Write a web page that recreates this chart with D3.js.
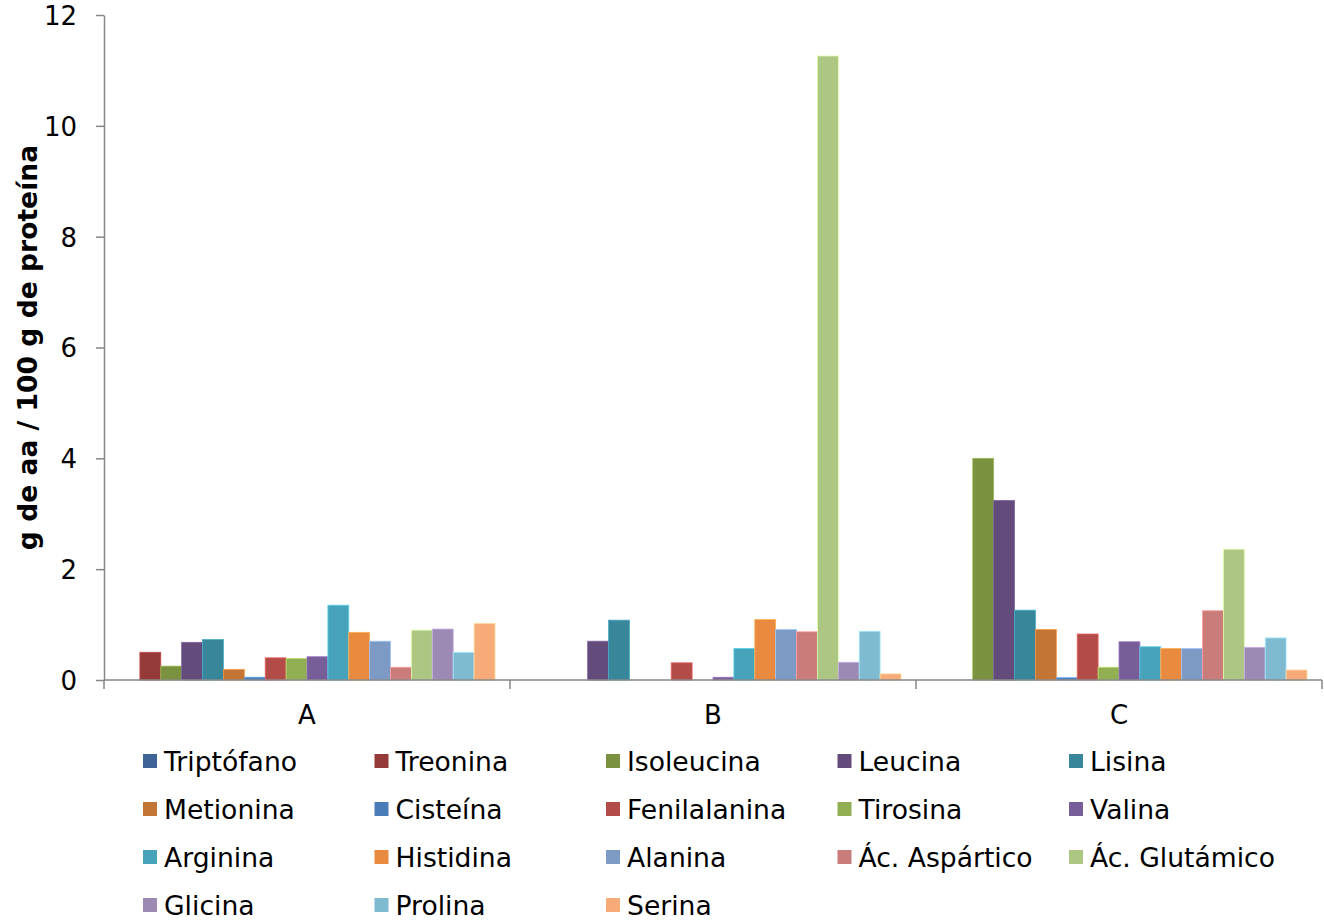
<!DOCTYPE html>
<html>
<head>
<meta charset="utf-8">
<script src="https://cdn.jsdelivr.net/npm/d3@7"></script>
<style>
  html, body { margin: 0; padding: 0; background: #fff; }
  svg text { font-family: "DejaVu Sans", Verdana, sans-serif; fill: #000; }
</style>
</head>
<body>
<svg id="chart" width="1324" height="920"></svg>
<script>
// Sample groups on the x axis
const groups = ["A", "B", "C"];

// Amino acids (one series each)
const aminoAcids = [
  "Triptófano", "Treonina", "Isoleucina", "Leucina", "Lisina",
  "Metionina", "Cisteína", "Fenilalanina", "Tirosina", "Valina",
  "Arginina", "Histidina", "Alanina", "Ác. Aspártico", "Ác. Glutámico",
  "Glicina", "Prolina", "Serina"
];

// g of amino acid per 100 g protein, in aminoAcids order
const valuesA = [0, 0.50, 0.25, 0.68, 0.73, 0.19, 0.05, 0.40, 0.39, 0.42, 1.35, 0.86, 0.70, 0.23, 0.90, 0.92, 0.50, 1.02];
const valuesB = [0, 0, 0, 0.70, 1.08, 0, 0, 0.31, 0, 0.05, 0.57, 1.09, 0.91, 0.87, 11.26, 0.32, 0.88, 0.11];
const valuesC = [0, 0, 4.00, 3.24, 1.26, 0.91, 0.04, 0.83, 0.23, 0.69, 0.60, 0.57, 0.57, 1.25, 2.36, 0.59, 0.76, 0.18];

// Y axis tick values
const yTicks = [0, 2, 4, 6, 8, 10, 12];

const seriesColors = [
  "#3E6497", "#963A39", "#7A9140", "#634C7B", "#37869A",
  "#C27534", "#4A7CB8", "#B34B48", "#92AE53", "#785E98",
  "#47A3BA", "#E88B41", "#7D9AC5", "#CA7C7A", "#AEC684",
  "#9C8AB4", "#7FBAD0", "#F7AB78"
];

const valuesByGroup = { A: valuesA, B: valuesB, C: valuesC };

const svg = d3.select("#chart");
const axisColor = "#868686";
const fontSize = 26;
const textSize = 26.6;

const plot = { left: 104, right: 1322, top: 15, bottom: 680 };

const y = d3.scaleLinear().domain([0, 12]).range([plot.bottom, plot.top]);
const x0 = d3.scaleBand().domain(groups).range([plot.left, plot.right]).padding(0);
const groupPad = 15;
const x1 = d3.scaleBand().domain(aminoAcids)
  .range([groupPad, x0.bandwidth() - groupPad]).padding(0);
const color = d3.scaleOrdinal().domain(aminoAcids).range(seriesColors);

// Bars
const gBars = svg.append("g");
groups.forEach(g => {
  const gg = gBars.append("g").attr("transform", `translate(${x0(g)},0)`);
  gg.selectAll("rect")
    .data(aminoAcids.map((name, i) => ({ name, value: valuesByGroup[g][i] })).filter(d => d.value > 0))
    .join("rect")
    .attr("x", d => x1(d.name))
    .attr("y", d => y(d.value))
    .attr("width", x1.bandwidth())
    .attr("height", d => y(0) - y(d.value))
    .attr("fill", d => color(d.name))
    .attr("stroke", d => d3.color(color(d.name)).brighter(0.7))
    .attr("stroke-width", 0.8);
});

// Y axis
const yAxis = d3.axisLeft(y).tickValues(yTicks).tickSize(8).tickSizeOuter(0).tickPadding(19)
  .tickFormat(d3.format("d"));
const gy = svg.append("g").attr("transform", `translate(${plot.left},0)`).call(yAxis);
gy.select(".domain").attr("stroke", axisColor).attr("stroke-width", 1.5);
gy.selectAll(".tick line").attr("stroke", axisColor).attr("stroke-width", 1.5);
gy.selectAll(".tick text")
  .style("font-family", "'DejaVu Sans', Verdana, sans-serif")
  .style("font-size", fontSize + "px").attr("fill", "#000").attr("dy", "0.36em");

// X axis: baseline, boundary ticks, centered group labels
const gx = svg.append("g");
gx.append("line")
  .attr("x1", plot.left).attr("x2", plot.right)
  .attr("y1", y(0)).attr("y2", y(0))
  .attr("stroke", axisColor).attr("stroke-width", 1.5);
const boundaries = groups.map(g => x0(g)).concat([x0.range()[1]]);
gx.selectAll("line.tick").data(boundaries).join("line")
  .attr("class", "tick")
  .attr("x1", d => d).attr("x2", d => d)
  .attr("y1", y(0)).attr("y2", y(0) + 9)
  .attr("stroke", axisColor).attr("stroke-width", 1.5);
gx.selectAll("text").data(groups).join("text")
  .attr("x", g => x0(g) + x0.bandwidth() / 2)
  .attr("y", 724)
  .attr("text-anchor", "middle")
  .style("font-size", fontSize + "px")
  .text(g => g);

// Y axis title
svg.append("text")
  .attr("transform", `translate(37,${(plot.top + plot.bottom) / 2}) rotate(-90)`)
  .attr("text-anchor", "middle")
  .style("font-size", textSize + "px")
  .style("font-weight", "bold")
  .text("g de aa / 100 g de proteína");

// Legend: 5 columns, row-major
const legendCols = 5, colStep = 231.5, rowStep = 48;
const legend = svg.append("g").attr("transform", "translate(143,754)");
const items = legend.selectAll("g").data(aminoAcids).join("g")
  .attr("transform", (d, i) => `translate(${(i % legendCols) * colStep},${Math.floor(i / legendCols) * rowStep})`);
items.append("rect")
  .attr("width", 14).attr("height", 14)
  .attr("fill", d => color(d));
items.append("text")
  .attr("x", 21).attr("y", 17)
  .style("font-size", textSize + "px")
  .text(d => d);
</script>
</body>
</html>
